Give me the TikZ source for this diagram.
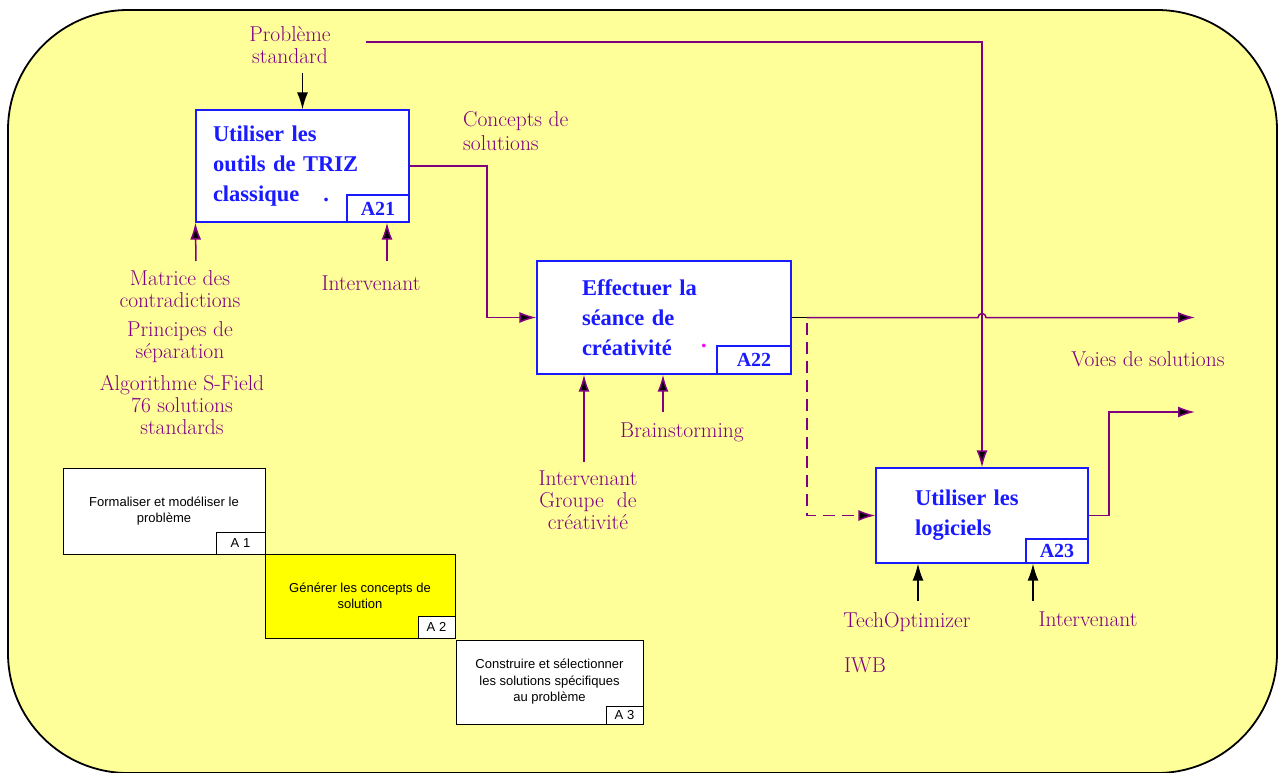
\documentclass[tikz,border=0pt]{standalone}
\usepackage{fontspec}
\newfontfamily\boxfont{Liberation Serif}
\newfontfamily\smallfont{Liberation Sans}
\usepackage{tikz}
\usetikzlibrary{arrows.meta}
\definecolor{fond}{HTML}{FFFF99}
\definecolor{jaune}{HTML}{FFFF00}
\definecolor{idefviolet}{HTML}{800080}
\definecolor{idefbleu}{HTML}{1A1AFF}
\definecolor{rose}{HTML}{FF00FF}
\tikzset{>=latex}

\begin{document}
\begin{tikzpicture}[
    x = 1pt, y = -1pt,
    lab/.style = {text = idefviolet, font = \fontsize{21.5}{22}\selectfont, align = center, inner sep = 0pt},
    act/.style = {draw = idefbleu, line width = 1.2pt, fill = white, text = idefbleu, align = left, inner sep = 0pt, font = \boxfont\bfseries\fontsize{22.5}{30}\selectfont},
    num/.style = {draw = idefbleu, line width = 1.2pt, fill = white, text = idefbleu, inner sep = 0pt, anchor = south east, font = \boxfont\bfseries\fontsize{20}{20}\selectfont},
    sbox/.style = {draw = black, line width = 0.8pt, fill = white, align = center, inner sep = 0pt, font = \smallfont\fontsize{13}{16.5}\selectfont},
    snum/.style = {draw = black, line width = 0.8pt, fill = white, inner sep = 0pt, anchor = south east, font = \smallfont\fontsize{13}{13}\selectfont},
    flow/.style = {draw = idefviolet, line width = 1.5pt, -{Latex[length = 17pt, width = 11pt, fill = black]}},
    bflow/.style = {draw = black, line width = 1.5pt, -{Latex[length = 17pt, width = 11pt]}},
]

\useasboundingbox (0,0) rectangle (1278,772);
\draw[fill = fond, line width = 1.8pt, rounded corners = 120pt] (8,10) rectangle (1277,773);

% activites
\node[act, minimum width = 213pt, minimum height = 112pt, text width = 179pt] (a21) at (302.5,166) {Utiliser les\\outils de TRIZ\\classique\hspace{24pt}.};
\node[num, minimum width = 62pt, minimum height = 27pt] (a21n) at (a21.south east) {A21};

\node[act, minimum width = 254pt, minimum height = 113pt, text width = 164pt] (a22) at (664,317.5) {Effectuer la\\séance de\\créativité};
\node[num, minimum width = 74pt, minimum height = 28pt] (a22n) at (a22.south east) {A22};
\node[text = rose, inner sep = 0pt, font = \boxfont\bfseries\fontsize{22.5}{30}\selectfont] (a22dot) at (704,346) {.};

\node[act, minimum width = 212pt, minimum height = 95pt, text width = 134pt] (a23) at (982,515.5) {Utiliser les\\logiciels};
\node[num, minimum width = 62pt, minimum height = 24pt] (a23n) at (a23.south east) {A23};

% etiquettes
\node[lab] (pbstd) at (290,45) {Problème\\standard};
\node[lab, align = left, anchor = west, font = \fontsize{21.5}{24}\selectfont] (concepts) at (463,131) {Concepts de\\solutions};
\node[lab] (matrice) at (180,289) {Matrice des\\contradictions};
\node[lab] (principes) at (180,342) {Principes de\\séparation};
\node[lab] (algo) at (182,405) {Algorithme S-Field\\76 solutions\\standards};
\node[lab] (int1) at (371,283) {Intervenant};
\node[lab] (brain) at (682,432) {Brainstorming};
\node[lab] (groupe) at (588,500) {Intervenant\\Groupe\ \ de\\créativité};
\node[lab] (voies) at (1148,359) {Voies de solutions};
\node[lab] (techopt) at (907,622) {TechOptimizer};
\node[lab] (iwb) at (865,665) {IWB};
\node[lab] (int3) at (1088,619) {Intervenant};

\coordinate (pbIn) at (302.5,73);
\coordinate (pbOut) at (366,42);
\coordinate (matIn) at (196,261);
\coordinate (int1In) at (387,261);
\coordinate (groupeIn) at (584,462);
\coordinate (brainIn) at (663,412);
\coordinate (techIn) at (918,601);
\coordinate (int3In) at (1033,601);
\coordinate (split) at (807,317.5);
\coordinate (voiesOut) at (1195,317.5);
\coordinate (solOut) at (1195,412);

% fleches
\draw[bflow] (pbIn) -- (a21.north);
\draw[flow] (pbOut) -| (a23.north);
\draw[flow] (a21.east) -- (487,166) |- (a22.west);
\draw[flow] (matIn) -- (a21.south west);
\draw[flow] (int1In) -- (int1In |- a21.south);
\draw[flow] (groupeIn) -- (groupeIn |- a22.south);
\draw[flow] (brainIn) -- (brainIn |- a22.south);
\draw[black, line width = 1.5pt] (a22.east) -- (split);
\draw[flow] (split) -- (978,317.5) arc[start angle = 180, end angle = 0, radius = 4pt] -- (voiesOut);
\draw[flow, dash pattern = on 12pt off 7pt] ([yshift = -5pt]split) |- (a23.west);
\draw[flow] (a23.east) -- (1109,515.5) |- (solOut);
\draw[bflow] (techIn) -- (techIn |- a23.south);
\draw[bflow] (int3In) -- (int3In |- a23.south);

% arbre A0
\node[sbox, minimum width = 202pt, minimum height = 86pt] (a1) at (164,511) {Formaliser et modéliser le\\problème};
\node[snum, minimum width = 49pt, minimum height = 22pt] (a1n) at (a1.south east) {A 1};
\node[sbox, fill = jaune, minimum width = 190pt, minimum height = 84pt] (a2) at (360,596) {Générer les concepts de\\solution};
\node[snum, minimum width = 37pt, minimum height = 22pt] (a2n) at (a2.south east) {A 2};
\node[sbox, minimum width = 187pt, minimum height = 84pt] (a3) at (549.5,682) {Construire et sélectionner\\les solutions spécifiques\\au problème};
\node[snum, minimum width = 37pt, minimum height = 18pt] (a3n) at (a3.south east) {A 3};

\end{tikzpicture}
\end{document}
